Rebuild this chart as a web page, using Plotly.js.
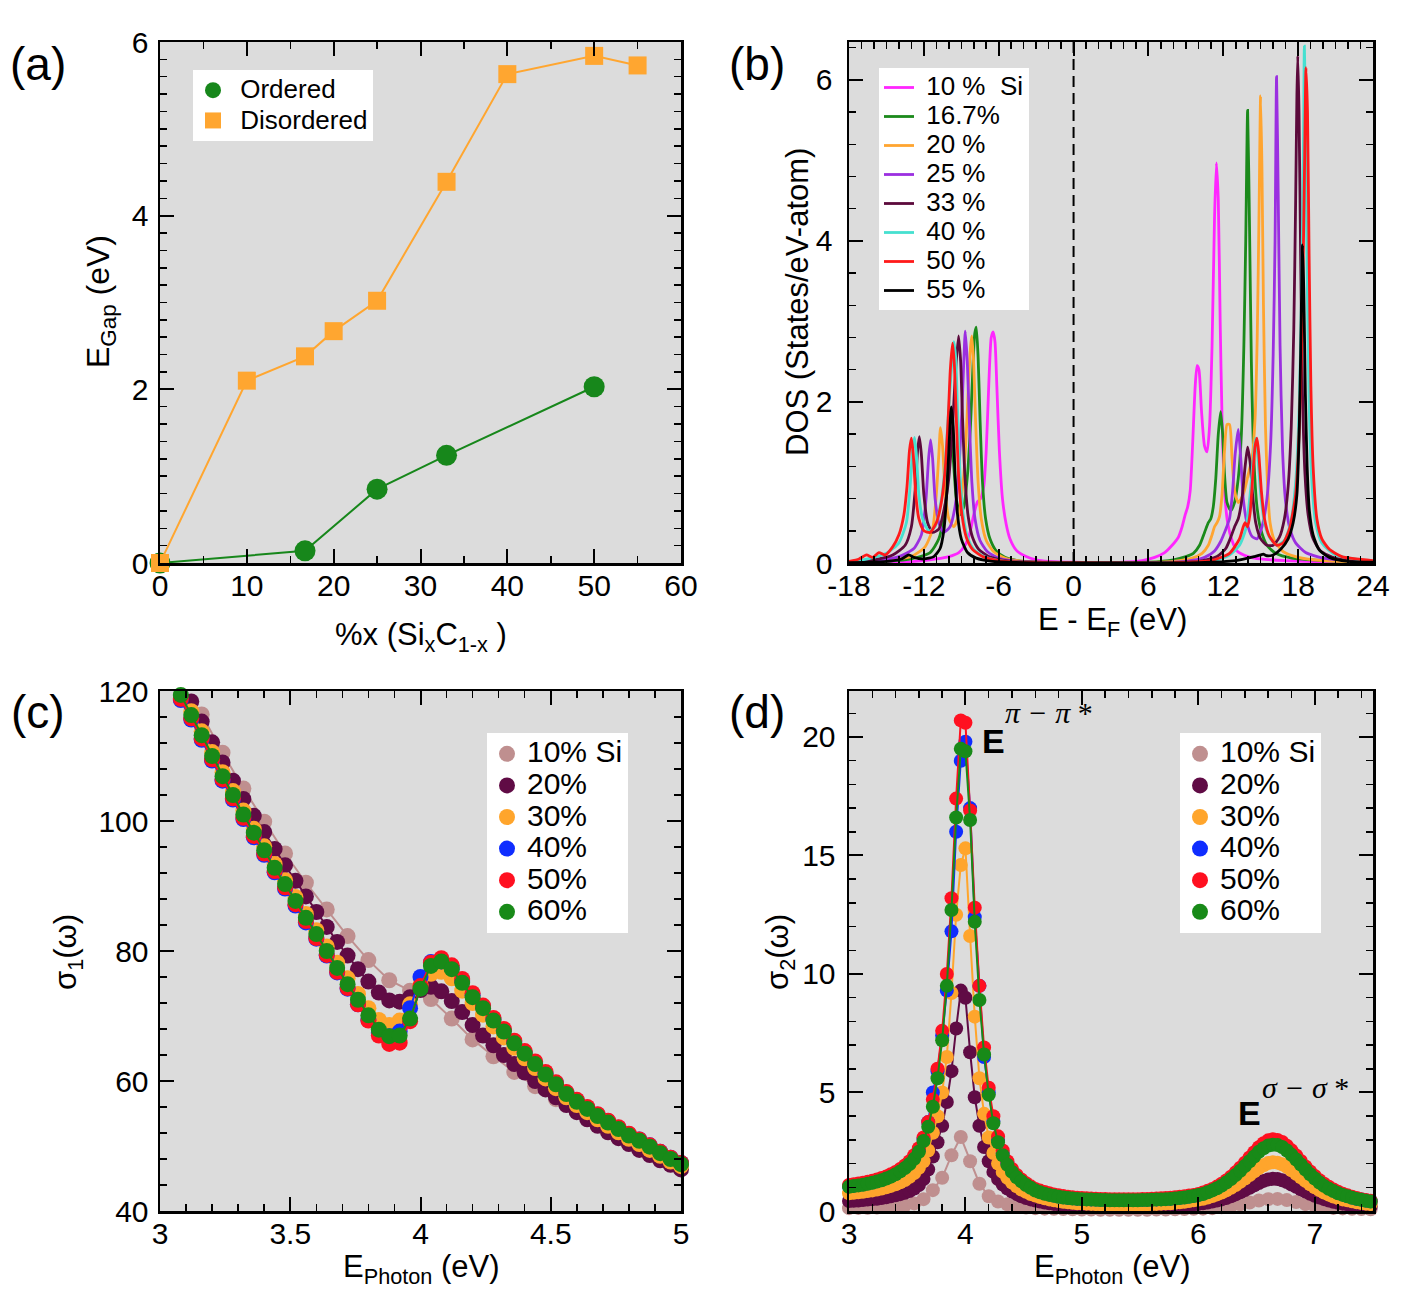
<!DOCTYPE html>
<html><head><meta charset="utf-8">
<script src="https://cdn.plot.ly/plotly-3.0.1.min.js"></script>
<style>html,body{margin:0;padding:0;background:#fff}#chart{width:1410px;height:1300px}</style>
</head><body><div id="chart"></div>
<script>
// ---------------- Panel (a): band gap vs Si fraction ----------------
const gapX_ordered = [0, 16.7, 25, 33, 50];
const gapY_ordered = [0, 0.14, 0.85, 1.24, 2.03];
const gapX_disordered = [0, 10, 16.7, 20, 25, 33, 40, 50, 55];
const gapY_disordered = [0, 2.10, 2.38, 2.67, 3.02, 4.39, 5.63, 5.84, 5.73];
const gapNames = ['Ordered', 'Disordered'];

// ---------------- Panel (b): DOS curves [E-EF, DOS] ----------------
const dos_10 = [[-18,0],[-14,0.01],[-12,0.03],[-11,0.05],[-10,0.08],[-9.2,0.13],[-8.7,0.22],[-8.3,0.38],[-8.0,0.6],[-7.7,0.76],[-7.45,0.8],[-7.2,0.95],[-7.0,1.4],[-6.8,2.2],[-6.6,2.8],[-6.45,2.87],[-6.3,2.75],[-6.15,2.2],[-5.95,1.4],[-5.7,0.8],[-5.4,0.48],[-5.1,0.3],[-4.6,0.16],[-3.8,0.08],[-3.0,0.04],[-2,0.02],[0,0.01],
 [4,0.01],[5.5,0.03],[6.5,0.07],[7.3,0.13],[7.9,0.22],[8.4,0.32],[8.7,0.45],[8.95,0.6],[9.15,0.7],[9.35,0.9],[9.55,1.5],[9.75,2.2],[9.9,2.45],[10.05,2.4],[10.25,1.9],[10.5,1.45],[10.7,1.38],[10.9,1.7],[11.1,2.7],[11.3,4.3],[11.45,4.97],[11.6,4.5],[11.75,3.0],[11.9,1.8],[12.1,0.9],[12.35,0.5],[12.7,0.28],[13.1,0.15],[14,0.08],[15,0.05],[17,0.03],[20,0.015],[24,0.005]];
const dos_167 = [[-18,0.005],[-15,0.02],[-13,0.05],[-11.5,0.13],[-10.8,0.3],[-10.3,0.7],[-10.05,1.2],[-9.85,1.55],[-9.65,1.3],[-9.4,0.8],[-9.1,0.6],[-8.8,0.7],[-8.5,1.1],[-8.25,1.75],[-8.05,2.5],[-7.92,2.85],[-7.8,2.93],[-7.65,2.55],[-7.5,1.8],[-7.3,1.0],[-7.05,0.55],[-6.7,0.3],[-6.2,0.15],[-5.5,0.07],[-4.5,0.03],[-3,0.01],[0,0.003],
 [4,0.005],[6,0.01],[8,0.04],[9,0.08],[9.6,0.12],[10.1,0.22],[10.5,0.38],[10.8,0.5],[11.0,0.55],[11.2,0.7],[11.4,1.05],[11.6,1.6],[11.79,1.88],[11.95,1.6],[12.1,1.1],[12.3,0.75],[12.6,0.65],[12.9,0.75],[13.2,1.05],[13.45,1.6],[13.65,2.7],[13.8,4.0],[13.95,5.62],[14.1,4.2],[14.25,2.5],[14.45,1.3],[14.7,0.7],[15.0,0.42],[15.5,0.22],[16.2,0.12],[17.5,0.06],[20,0.03],[24,0.01]];
const dos_20 = [[-18,0.01],[-15,0.03],[-13,0.08],[-11.9,0.2],[-11.3,0.42],[-11.0,0.85],[-10.8,1.35],[-10.67,1.68],[-10.5,1.45],[-10.3,0.9],[-10.0,0.55],[-9.6,0.45],[-9.2,0.6],[-8.85,1.0],[-8.6,1.6],[-8.4,2.3],[-8.25,2.7],[-8.15,2.82],[-8.0,2.45],[-7.85,1.75],[-7.65,1.0],[-7.4,0.55],[-7.0,0.28],[-6.4,0.14],[-5.5,0.06],[-4,0.02],[-2,0.01],[0,0.003],
 [5,0.005],[8,0.02],[9.5,0.06],[10.3,0.12],[10.8,0.22],[11.1,0.35],[11.3,0.45],[11.5,0.5],[11.7,0.58],[11.9,0.85],[12.1,1.4],[12.3,1.72],[12.5,1.72],[12.7,1.3],[12.9,0.9],[13.2,0.75],[13.6,0.85],[14.0,1.1],[14.3,1.3],[14.55,1.8],[14.72,2.8],[14.87,4.4],[14.99,5.8],[15.1,4.9],[15.22,3.2],[15.38,1.7],[15.55,0.95],[15.75,0.5],[16.1,0.28],[16.8,0.14],[18,0.07],[20,0.03],[24,0.01]];
const dos_25 = [[-18,0.01],[-16,0.03],[-14,0.08],[-12.8,0.18],[-12.2,0.35],[-11.85,0.75],[-11.62,1.3],[-11.46,1.53],[-11.3,1.3],[-11.1,0.8],[-10.8,0.5],[-10.4,0.38],[-9.9,0.45],[-9.5,0.7],[-9.2,1.15],[-8.95,1.9],[-8.8,2.5],[-8.68,2.88],[-8.52,2.5],[-8.35,1.75],[-8.15,1.0],[-7.9,0.55],[-7.5,0.28],[-6.9,0.14],[-6,0.06],[-4.5,0.02],[-2,0.01],[0,0.003],
 [6,0.005],[9,0.02],[10.5,0.07],[11.3,0.15],[11.8,0.27],[12.1,0.38],[12.3,0.46],[12.5,0.55],[12.75,0.9],[12.95,1.35],[13.2,1.66],[13.4,1.3],[13.6,0.8],[13.9,0.5],[14.3,0.33],[14.7,0.3],[15.1,0.45],[15.5,0.8],[15.8,1.5],[16.0,2.6],[16.15,4.0],[16.27,6.04],[16.4,4.6],[16.55,2.7],[16.75,1.4],[17.0,0.75],[17.35,0.42],[17.8,0.25],[18.6,0.13],[20,0.06],[24,0.015]];
const dos_33 = [[-18,0.01],[-16,0.04],[-14.5,0.1],[-13.5,0.22],[-13.0,0.45],[-12.7,0.9],[-12.5,1.4],[-12.36,1.57],[-12.2,1.35],[-12.0,0.85],[-11.7,0.5],[-11.3,0.38],[-10.8,0.42],[-10.4,0.65],[-10.0,1.05],[-9.7,1.7],[-9.45,2.4],[-9.22,2.82],[-9.05,2.5],[-8.9,1.8],[-8.7,1.05],[-8.45,0.58],[-8.1,0.32],[-7.6,0.17],[-6.8,0.08],[-5.5,0.03],[-3,0.01],[0,0.003],
 [7,0.005],[10,0.02],[11.5,0.08],[12.2,0.18],[12.6,0.32],[12.93,0.46],[13.2,0.55],[13.5,0.8],[13.75,1.2],[13.95,1.44],[14.15,1.25],[14.35,0.85],[14.6,0.5],[15.0,0.3],[15.5,0.22],[16.0,0.22],[16.5,0.32],[16.9,0.55],[17.2,0.95],[17.45,1.7],[17.65,2.9],[17.8,4.5],[17.9,5.8],[17.97,6.3],[18.07,5.6],[18.2,3.8],[18.35,2.1],[18.55,1.1],[18.8,0.6],[19.2,0.3],[19.8,0.15],[21,0.06],[24,0.02]];
const dos_40 = [[-18,0.01],[-16.5,0.05],[-15,0.12],[-14,0.25],[-13.4,0.5],[-13.1,0.95],[-12.9,1.4],[-12.75,1.56],[-12.6,1.35],[-12.4,0.85],[-12.1,0.55],[-11.6,0.4],[-11.1,0.45],[-10.7,0.7],[-10.35,1.1],[-10.05,1.8],[-9.8,2.4],[-9.6,2.75],[-9.45,2.55],[-9.3,1.9],[-9.1,1.1],[-8.85,0.6],[-8.5,0.32],[-8,0.17],[-7.2,0.08],[-6,0.03],[-4,0.01],[0,0.003],
 [8,0.005],[11,0.02],[12.5,0.1],[13.3,0.22],[13.8,0.42],[14.15,0.85],[14.4,1.3],[14.58,1.55],[14.75,1.35],[15.0,0.85],[15.3,0.5],[15.7,0.32],[16.3,0.22],[16.9,0.28],[17.4,0.5],[17.8,1.0],[18.1,2.0],[18.3,3.6],[18.43,5.3],[18.5,6.42],[18.6,5.5],[18.72,3.6],[18.88,2.0],[19.1,1.0],[19.4,0.5],[19.9,0.25],[21,0.1],[24,0.02]];
const dos_50 = [[-18,0.02],[-17.2,0.05],[-16.6,0.1],[-16.1,0.07],[-15.6,0.13],[-15.1,0.1],[-14.5,0.2],[-14.0,0.35],[-13.6,0.6],[-13.35,0.95],[-13.15,1.4],[-13.0,1.55],[-12.85,1.35],[-12.65,0.85],[-12.4,0.55],[-12.0,0.4],[-11.5,0.38],[-11.0,0.5],[-10.6,0.75],[-10.3,1.15],[-10.05,1.8],[-9.88,2.4],[-9.7,2.73],[-9.55,2.45],[-9.4,1.8],[-9.2,1.05],[-8.95,0.6],[-8.6,0.32],[-8.1,0.17],[-7.3,0.08],[-6,0.03],[-4,0.01],[0,0.003],
 [8,0.005],[11,0.03],[12.5,0.12],[13.3,0.3],[13.6,0.45],[13.75,0.5],[13.95,0.45],[14.15,0.62],[14.35,1.05],[14.55,1.45],[14.7,1.55],[14.85,1.35],[15.05,0.9],[15.3,0.55],[15.7,0.33],[16.3,0.22],[16.8,0.25],[17.3,0.42],[17.8,0.85],[18.1,1.7],[18.35,3.2],[18.52,5.0],[18.63,6.15],[18.75,5.6],[18.88,3.8],[19.02,2.2],[19.2,1.2],[19.5,0.55],[19.9,0.3],[20.5,0.17],[21.5,0.08],[24,0.03]];
const dos_55 = [[-18,0.005],[-15,0.02],[-13.8,0.05],[-13.2,0.1],[-12.8,0.07],[-12,0.05],[-11.2,0.08],[-10.7,0.18],[-10.4,0.4],[-10.15,0.9],[-9.97,1.5],[-9.8,1.94],[-9.65,1.7],[-9.5,1.1],[-9.3,0.6],[-9.0,0.3],[-8.5,0.13],[-7.8,0.06],[-6.5,0.02],[-4,0.005],
 [10,0.005],[13,0.03],[14.5,0.08],[15.0,0.1],[15.2,0.11],[15.5,0.09],[16,0.1],[16.6,0.17],[17.2,0.3],[17.6,0.5],[17.9,0.85],[18.08,1.6],[18.2,2.6],[18.3,3.6],[18.35,3.95],[18.45,3.4],[18.58,2.1],[18.72,1.2],[18.9,0.65],[19.2,0.35],[19.7,0.16],[20.5,0.07],[22,0.02],[24,0.01]];
const dosNames = ['10 %&nbsp;&nbsp;Si','16.7%','20 %','25 %','33 %','40 %','50 %','55 %'];
const dosXTicks = [-18,-12,-6,0,6,12,18,24];
const dosXTickText = ['-18','-12','-6','0','6','12','18','24'];

// ---------------- Panel (c): sigma1 ----------------
const E_c = [3.08,3.12,3.16,3.20,3.24,3.28,3.32,3.36,3.40,3.44,
 3.48,3.52,3.56,3.60,3.64,3.68,3.72,3.76,3.80,3.84,
 3.88,3.92,3.96,4.00,4.04,4.08,4.12,4.16,4.20,4.24,
 4.28,4.32,4.36,4.40,4.44,4.48,4.52,4.56,4.60,4.64,
 4.68,4.72,4.76,4.80,4.84,4.88,4.92,4.96,5.00];
const E_c10 = [3.16,3.24,3.32,3.40,3.48,3.56,3.64,3.72,3.80,3.88,3.96,4.04,4.12,4.20,4.28,4.36,4.44,4.52,4.60,4.68,4.76,4.84,4.92,5.00];
const s1_10 = [116.4,110.5,105.0,99.9,95.0,90.5,86.4,82.3,78.6,75.5,73.9,72.6,69.6,66.4,63.8,61.4,59.2,57.2,55.3,53.6,52.0,50.4,48.9,47.4];
const s1_20 = [null,118.4,115.3,112.1,109.0,106.2,103.4,100.8,98.3,95.7,
 93.2,90.8,88.4,86.0,83.7,81.4,79.3,77.2,75.3,73.6,
 72.4,72.2,72.9,74.0,74.5,73.8,72.3,70.6,68.6,67.0,
 65.5,64.0,62.6,61.3,60.0,58.7,57.5,56.3,55.2,54.1,
 53.1,52.1,51.2,50.3,49.4,48.6,47.8,47.1,46.4];
const s1_30 = [null,116.9,113.8,110.6,107.5,104.6,101.6,98.8,96.1,93.4,
 90.9,88.3,85.7,83.2,80.7,78.2,75.8,73.4,71.2,69.4,
 68.6,69.3,71.8,74.8,76.5,76.8,75.8,73.9,72.0,70.2,
 68.4,66.7,65.1,63.5,62.0,60.4,58.9,57.5,56.3,55.2,
 54.1,53.1,52.1,51.1,50.3,49.4,48.5,47.6,46.9];
const s1_40 = [118.6,115.6,112.5,109.3,106.2,103.3,100.3,97.5,94.8,92.1,
 89.6,87.0,84.4,81.9,79.3,76.7,74.2,71.8,69.4,67.4,
 66.9,67.6,71.2,76.0,78.3,78.4,77.4,75.4,73.2,71.4,
 69.5,67.8,66.0,64.4,62.8,61.2,59.7,58.2,57.0,55.9,
 54.8,53.8,52.8,51.8,51.0,50.1,49.1,48.2,47.4];
const s1_50 = [118.8,115.8,112.7,109.5,106.4,103.5,100.5,97.7,95.0,92.3,
 89.8,87.2,84.6,82.0,79.4,76.8,74.3,71.8,69.3,67.0,
 65.7,65.9,69.2,74.6,78.2,78.9,77.8,75.7,73.5,71.6,
 69.7,68.0,66.2,64.6,63.0,61.4,59.8,58.3,57.1,56.0,
 54.9,53.9,52.9,51.9,51.0,50.1,49.1,48.2,47.4];
const s1_60 = [119.4,116.3,113.2,110.0,106.9,104.0,101.0,98.2,95.5,92.8,
 90.3,87.7,85.1,82.6,80.0,77.4,74.9,72.5,70.1,67.9,
 66.9,67.0,69.6,74.2,77.7,78.4,77.2,75.1,72.9,71.2,
 69.3,67.6,65.8,64.2,62.6,61.0,59.5,58.0,56.8,55.7,
 54.6,53.6,52.6,51.6,50.8,49.9,48.9,48.0,47.2];

// ---------------- Panel (d): sigma2 ----------------
const E_d = [3.00,3.04,3.08,3.12,3.16,3.20,3.24,3.28,3.32,3.36,
 3.40,3.44,3.48,3.52,3.56,3.60,3.64,3.68,3.72,3.76,
 3.80,3.84,3.88,3.92,3.96,4.00,4.04,4.08,4.12,4.16,
 4.20,4.24,4.28,4.32,4.36,4.40,4.44,4.48,4.52,4.56,
 4.60,4.64,4.68,4.72,4.76,4.80,4.84,4.88,4.92,4.96,
 5.00,5.04,5.08,5.12,5.16,5.20,5.24,5.28,5.32,5.36,
 5.40,5.44,5.48,5.52,5.56,5.60,5.64,5.68,5.72,5.76,
 5.80,5.84,5.88,5.92,5.96,6.00,6.04,6.08,6.12,6.16,
 6.20,6.24,6.28,6.32,6.36,6.40,6.44,6.48,6.52,6.56,
 6.60,6.64,6.68,6.72,6.76,6.80,6.84,6.88,6.92,6.96,
 7.00,7.04,7.08,7.12,7.16,7.20,7.24,7.28,7.32,7.36,
 7.40,7.44,7.48];
const E_d10 = [3.00,3.08,3.16,3.24,3.32,3.40,3.48,3.56,3.64,3.72,
 3.80,3.88,3.96,4.04,4.12,4.20,4.28,4.36,4.44,4.52,
 4.60,4.68,4.76,4.84,4.92,5.00,5.08,5.16,5.24,5.32,
 5.40,5.48,5.56,5.64,5.72,5.80,5.88,5.96,6.04,6.12,
 6.20,6.28,6.36,6.44,6.52,6.60,6.68,6.76,6.84,6.92,
 7.00,7.08,7.16,7.24,7.32,7.40,7.48];
const s2_10 = [0.12,0.13,0.14,0.15,0.17,0.20,0.24,0.32,0.50,0.88,
 1.40,2.35,3.12,2.10,1.15,0.62,0.40,0.28,0.20,0.15,
 0.12,0.10,0.09,0.08,0.07,0.06,0.06,0.05,0.05,0.05,
 0.05,0.05,0.05,0.06,0.06,0.07,0.08,0.09,0.10,0.12,
 0.16,0.21,0.28,0.36,0.44,0.50,0.51,0.46,0.38,0.29,
 0.22,0.17,0.13,0.11,0.09,0.08,0.07];
const s2_20 = [0.42,0.43,0.44,0.46,0.48,0.50,0.52,0.55,0.58,0.62,
 0.66,0.71,0.77,0.84,0.95,1.10,1.35,1.75,2.30,2.90,
 3.6,4.6,5.9,7.7,9.3,9.0,6.7,4.8,3.6,2.7,
 2.1,1.65,1.35,1.12,0.95,0.82,0.71,0.62,0.55,0.49,
 0.44,0.40,0.36,0.33,0.30,0.28,0.26,0.24,0.23,0.22,
 0.21,0.20,0.19,0.18,0.18,0.17,0.17,0.17,0.17,0.17,
 0.17,0.17,0.17,0.17,0.18,0.18,0.19,0.19,0.20,0.21,
 0.22,0.23,0.25,0.26,0.28,0.30,0.33,0.36,0.40,0.44,
 0.49,0.55,0.62,0.70,0.79,0.88,0.98,1.08,1.18,1.27,
 1.33,1.36,1.35,1.30,1.22,1.12,1.02,0.92,0.82,0.73,
 0.64,0.57,0.50,0.44,0.39,0.35,0.31,0.28,0.26,0.24,
 0.22,0.20,0.19];
const s2_30 = [0.75,0.77,0.79,0.81,0.84,0.87,0.91,0.95,1.00,1.06,
 1.13,1.21,1.31,1.44,1.60,1.82,2.10,2.55,3.30,4.00,
 5.0,6.5,9.2,12.5,14.6,15.3,11.6,8.2,5.6,4.1,
 3.1,2.45,2.0,1.65,1.40,1.20,1.04,0.91,0.81,0.72,
 0.65,0.59,0.54,0.49,0.45,0.42,0.39,0.37,0.35,0.33,
 0.32,0.31,0.30,0.29,0.28,0.28,0.27,0.27,0.27,0.27,
 0.27,0.27,0.27,0.28,0.28,0.29,0.30,0.31,0.32,0.33,
 0.35,0.37,0.39,0.42,0.45,0.48,0.52,0.57,0.63,0.70,
 0.78,0.87,0.98,1.10,1.23,1.37,1.52,1.67,1.81,1.93,
 2.02,2.06,2.04,1.97,1.86,1.72,1.57,1.42,1.27,1.13,
 1.00,0.88,0.78,0.69,0.61,0.55,0.49,0.45,0.41,0.37,
 0.34,0.31,0.29];
const s2_40 = [1.04,1.07,1.10,1.13,1.17,1.21,1.26,1.32,1.39,1.48,
 1.58,1.70,1.85,2.03,2.27,2.58,3.05,3.75,5.0,5.9,
 7.4,9.3,11.8,16.0,19.0,19.8,17.0,12.4,9.5,6.5,
 5.0,3.8,3.0,2.45,2.02,1.70,1.46,1.28,1.13,1.00,
 0.89,0.81,0.75,0.70,0.65,0.61,0.58,0.56,0.54,0.52,
 0.51,0.50,0.49,0.48,0.47,0.47,0.46,0.46,0.46,0.46,
 0.46,0.46,0.46,0.47,0.47,0.48,0.49,0.50,0.51,0.52,
 0.54,0.56,0.58,0.61,0.64,0.68,0.74,0.81,0.89,0.99,
 1.10,1.23,1.39,1.56,1.75,1.95,2.16,2.37,2.57,2.73,
 2.85,2.90,2.87,2.79,2.63,2.45,2.24,2.02,1.80,1.60,
 1.41,1.24,1.10,0.97,0.86,0.77,0.70,0.63,0.57,0.52,
 0.48,0.44,0.41];
const s2_50 = [1.10,1.13,1.16,1.19,1.23,1.28,1.33,1.39,1.46,1.55,
 1.65,1.77,1.92,2.10,2.35,2.65,3.10,3.75,4.70,6.00,
 7.6,10.0,13.2,17.4,20.7,20.6,16.9,12.8,9.5,6.9,
 5.2,4.0,3.15,2.55,2.10,1.77,1.52,1.33,1.17,1.04,
 0.93,0.86,0.80,0.75,0.70,0.66,0.63,0.60,0.58,0.56,
 0.55,0.54,0.53,0.52,0.51,0.51,0.50,0.50,0.50,0.50,
 0.50,0.50,0.50,0.51,0.51,0.52,0.53,0.54,0.55,0.56,
 0.58,0.60,0.62,0.65,0.68,0.72,0.78,0.85,0.93,1.03,
 1.15,1.29,1.45,1.63,1.83,2.04,2.26,2.48,2.69,2.86,
 2.98,3.03,3.00,2.91,2.75,2.56,2.34,2.11,1.88,1.67,
 1.48,1.30,1.15,1.02,0.91,0.81,0.73,0.66,0.60,0.55,
 0.50,0.46,0.43];
const s2_60 = [1.02,1.05,1.08,1.11,1.15,1.19,1.24,1.30,1.37,1.45,
 1.55,1.67,1.81,1.98,2.20,2.50,2.95,3.55,4.40,5.60,
 7.2,9.5,12.7,16.6,19.5,19.4,16.5,12.2,8.9,6.6,
 4.9,3.7,2.9,2.35,1.95,1.65,1.42,1.25,1.10,0.98,
 0.86,0.79,0.73,0.68,0.64,0.60,0.57,0.55,0.53,0.51,
 0.50,0.49,0.48,0.47,0.46,0.46,0.45,0.45,0.45,0.45,
 0.45,0.45,0.45,0.46,0.46,0.47,0.48,0.49,0.50,0.51,
 0.53,0.55,0.57,0.60,0.63,0.67,0.72,0.79,0.87,0.96,
 1.07,1.20,1.35,1.52,1.70,1.90,2.10,2.30,2.50,2.65,
 2.76,2.80,2.78,2.70,2.55,2.37,2.17,1.96,1.75,1.55,
 1.37,1.20,1.06,0.94,0.84,0.75,0.68,0.62,0.56,0.51,
 0.47,0.43,0.40];
const optNames = ['10% Si','20%','30%','40%','50%','60%'];

// ---------------- styling ----------------
const W = 1410, H = 1300;
const FONT = '"Liberation Sans", Arial, Helvetica, sans-serif';
const SERIF = '"Liberation Serif", "DejaVu Serif", serif';
const px = v => v / W;
const py = v => 1 - v / H;
const big = (t, s) => '<span style="font-size:' + s + 'px">' + t + '</span>';

const dosColors = ['#ff26ff','#1b8a1b','#ffa530','#9b2fe0','#5c0a3c','#46e0d0','#ff1a1a','#000000'];
const optColors = ['#bf8f8f','#600b45','#ffa52c','#0f2dff','#ff1020','#188a18'];
const dosSets = [dos_10, dos_167, dos_20, dos_25, dos_33, dos_40, dos_50, dos_55];

const traces = [];
// panel (a)
traces.push({x: gapX_ordered, y: gapY_ordered, xaxis:'x', yaxis:'y', mode:'lines+markers', showlegend:false, cliponaxis:false,
  line:{color:'#17871b', width:2}, marker:{color:'#17871b', size:21, symbol:'circle'}});
traces.push({x: gapX_disordered, y: gapY_disordered, xaxis:'x', yaxis:'y', mode:'lines+markers', showlegend:false, cliponaxis:false,
  line:{color:'#ffa630', width:2}, marker:{color:'#ffa630', size:18, symbol:'square'}});
traces.push({x:[null], y:[null], xaxis:'x', yaxis:'y', mode:'markers', name:big('&nbsp;' + gapNames[0], 26), legend:'legend',
  marker:{color:'#17871b', size:20, symbol:'circle'}});
traces.push({x:[null], y:[null], xaxis:'x', yaxis:'y', mode:'markers', name:big('&nbsp;' + gapNames[1], 26), legend:'legend',
  marker:{color:'#ffa630', size:17, symbol:'square'}});

// panel (b)
dosSets.forEach((s, i) => {
  traces.push({x: s.map(p => p[0]), y: s.map(p => p[1]), xaxis:'x2', yaxis:'y2', mode:'lines', name: big('&nbsp;' + dosNames[i], 26),
    legend:'legend2', line:{color: dosColors[i], width:2.8, shape:'spline', smoothing:0.6}});
});

// panel (c)
const s1Sets = [[E_c10, s1_10],[E_c, s1_20],[E_c, s1_30],[E_c, s1_40],[E_c, s1_50],[E_c, s1_60]];
s1Sets.forEach((s, i) => {
  traces.push({x: s[0], y: s[1], xaxis:'x3', yaxis:'y3', mode:'lines+markers', showlegend:false, cliponaxis:false,
    line:{color: optColors[i], width:2}, marker:{color: optColors[i], size:16}});
});
optNames.forEach((n, i) => {
  traces.push({x:[null], y:[null], xaxis:'x3', yaxis:'y3', mode:'markers', name:big(n, 30), legend:'legend3',
    marker:{color: optColors[i], size:16}});
});

// panel (d)
const s2Sets = [[E_d10, s2_10],[E_d, s2_20],[E_d, s2_30],[E_d, s2_40],[E_d, s2_50],[E_d, s2_60]];
s2Sets.forEach((s, i) => {
  traces.push({x: s[0], y: s[1], xaxis:'x4', yaxis:'y4', mode:'lines+markers', showlegend:false, cliponaxis:false,
    line:{color: optColors[i], width:2}, marker:{color: optColors[i], size:14}});
});
optNames.forEach((n, i) => {
  traces.push({x:[null], y:[null], xaxis:'x4', yaxis:'y4', mode:'markers', name:big(n, 30), legend:'legend4',
    marker:{color: optColors[i], size:16}});
});

function ax(extra) {
  return Object.assign({
    showline:true, linecolor:'black', linewidth:2.5, mirror:'allticks',
    ticks:'inside', ticklen:14, tickwidth:2, tickcolor:'black',
    showgrid:false, zeroline:false, fixedrange:true,
    tickfont:{family:FONT, size:30, color:'black'}, ticklabelstandoff:-6
  }, extra);
}
function minor(d) { return {dtick:d, ticks:'inside', ticklen:7, tickwidth:1.5, tickcolor:'black', showgrid:false}; }

const colA = [px(160), px(681)], colB = [px(849), px(1373)];
const rowTop = [py(563), py(42)], rowBot = [py(1211), py(691)];

function legendAt(x, y, size) {
  return {x: px(x), y: py(y), xanchor:'left', yanchor:'top', bgcolor:'white', borderwidth:0,
    font:{family:FONT, size:size, color:'black'}, tracegroupgap:0, itemclick:false, itemdoubleclick:false};
}

function ann(text, x, y, size, extra) {
  return Object.assign({text:text, xref:'paper', yref:'paper', x:px(x), y:py(y), showarrow:false,
    xanchor:'center', yanchor:'middle', font:{family:FONT, size:size, color:'black'}}, extra || {});
}

const layout = {
  width: W, height: H,
  margin:{l:0, r:0, t:0, b:0},
  paper_bgcolor:'white', plot_bgcolor:'#dcdcdc',
  showlegend:true,
  xaxis: ax({domain:colA, anchor:'y', range:[0,60], tick0:0, dtick:10, minor:minor(5)}),
  yaxis: ax({domain:rowTop, anchor:'x', range:[0,6], tick0:0, dtick:2, minor:minor(0.2), ticklabelstandoff:3}),
  xaxis2: ax({domain:colB, anchor:'y2', range:[-18,24], tickmode:'array', tickvals:dosXTicks, ticktext:dosXTickText, minor:Object.assign(minor(1),{tick0:0})}),
  yaxis2: ax({domain:rowTop, anchor:'x2', range:[0,6.47], tick0:0, dtick:2, minor:minor(0.4), ticklabelstandoff:8}),
  xaxis3: ax({domain:colA, anchor:'y3', range:[3,5], tick0:3, dtick:0.5, minor:minor(0.1)}),
  yaxis3: ax({domain:rowBot, anchor:'x3', range:[40,120], tick0:40, dtick:20, minor:minor(4), ticklabelstandoff:3}),
  xaxis4: ax({domain:colB, anchor:'y4', range:[3,7.5], tick0:3, dtick:1, minor:minor(0.2)}),
  yaxis4: ax({domain:rowBot, anchor:'x4', range:[0,21.94], tick0:0, dtick:5, minor:minor(1), ticklabelstandoff:5}),
  legend: legendAt(193, 70, 21),
  legend2: legendAt(879, 68, 20),
  legend3: legendAt(487, 733, 22),
  legend4: legendAt(1180, 733, 22),
  shapes:[{type:'line', xref:'x2', yref:'y2 domain', x0:0, x1:0, y0:0, y1:1, line:{color:'black', width:2, dash:'11px,6px'}}],
  annotations:[
    ann('(a)', 38, 64, 46), ann('(b)', 757, 64, 46), ann('(c)', 38, 712, 46), ann('(d)', 757, 712, 46),
    ann('E<sub>Gap</sub> (eV)', 100, 302, 32, {textangle:-90}),
    ann('%x (Si<sub>x</sub>C<sub>1-x</sub> )', 421, 637, 31),
    ann('DOS (States/eV-atom)', 797, 302, 31, {textangle:-90}),
    ann('E - E<sub>F</sub> (eV)', 1112, 622, 31),
    ann('σ<sub>1</sub>(ω)', 68, 952, 31, {textangle:-90}),
    ann('E<sub>Photon</sub> (eV)', 421, 1269, 31),
    ann('σ<sub>2</sub>(ω)', 780, 952, 31, {textangle:-90}),
    ann('E<sub>Photon</sub> (eV)', 1112, 1269, 31),
    ann('<b>E</b>', 993, 741, 34),
    ann('<i>π − π</i> *', 1049, 712, 30, {font:{family:SERIF, size:30, color:'black'}}),
    ann('<b>E</b>', 1249, 1113, 34),
    ann('<i>σ − σ</i> *', 1305, 1087, 30, {font:{family:SERIF, size:30, color:'black'}})
  ]
};

Plotly.newPlot('chart', traces, layout, {staticPlot:true, displayModeBar:false});
</script>
</body></html>
